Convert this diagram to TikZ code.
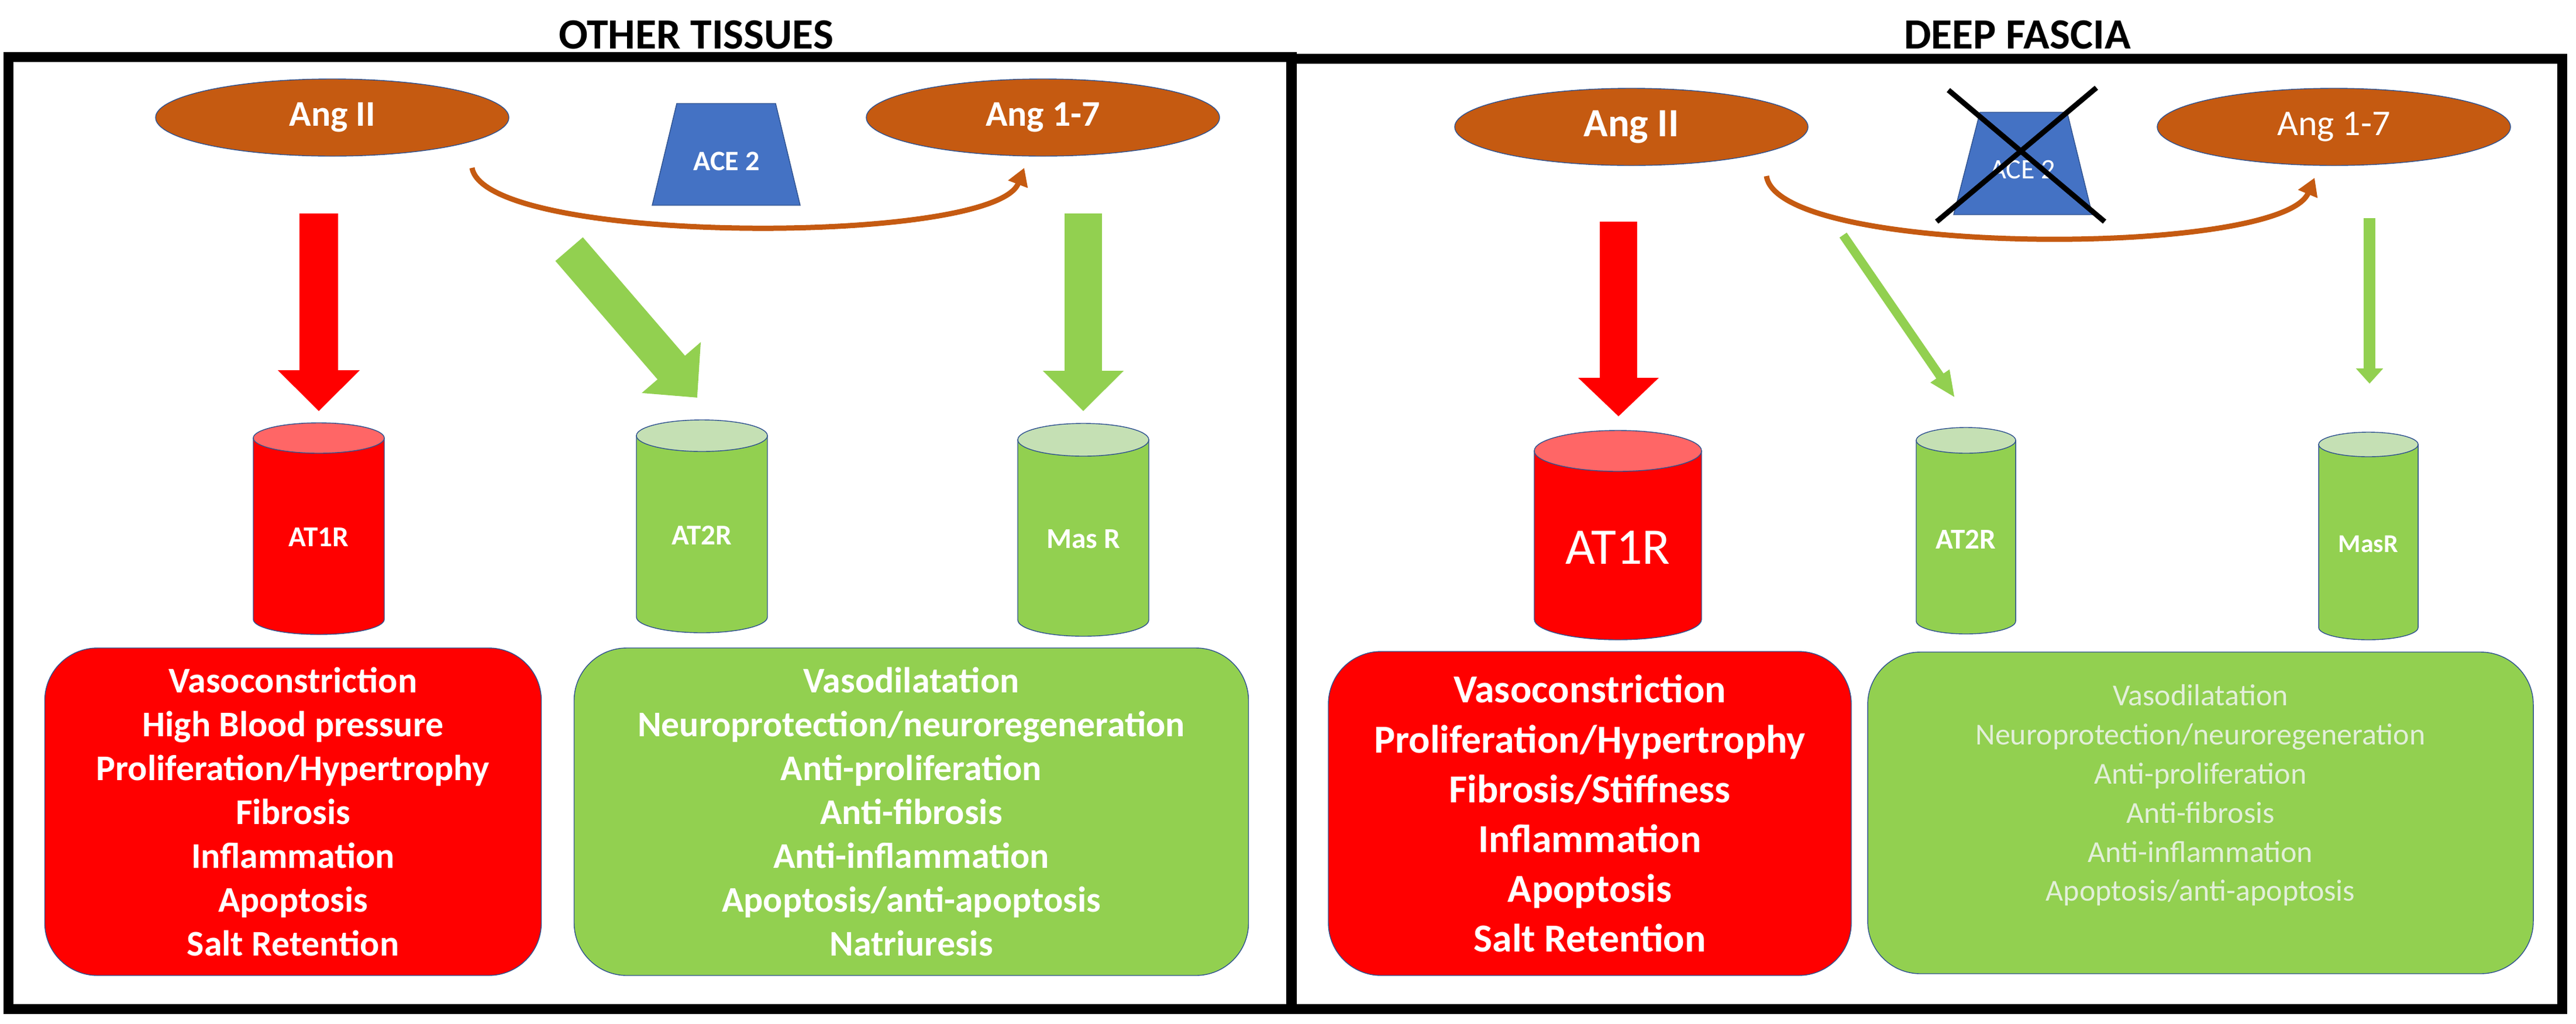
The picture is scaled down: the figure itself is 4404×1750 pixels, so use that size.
\documentclass[tikz,border=0pt]{standalone}
\usepackage{fontspec}
\setmainfont{Carlito}
\usetikzlibrary{shapes.geometric,arrows.meta,calc}
\definecolor{angbrown}{HTML}{C55A11}
\definecolor{aceblue}{HTML}{4472C4}
\definecolor{edge}{HTML}{2F528F}
\definecolor{redtop}{HTML}{FF6666}
\definecolor{greenfill}{HTML}{92D050}
\definecolor{greentop}{HTML}{C5E0B4}
\definecolor{fadetext}{HTML}{E2EFD9}
\definecolor{curvegray}{HTML}{5B6A8A}
\tikzset{
  ang/.style={ellipse,fill=angbrown,draw=edge,thin,text=white,minimum width=60.4mm,minimum height=13.2mm,inner sep=0pt},
  effect/.style={rounded corners=9mm,draw=edge,thin,text=white,align=center,inner sep=0pt},
  title/.style={font=\fontsize{21}{24}\selectfont\bfseries},
  cut/.style={black,line width=0.9mm},
  conv/.style={line width=0.9mm,angbrown,-{Triangle[length=3mm,width=3.4mm]}},
}
% block arrow: colour, shaft, head width, head length
\newcommand\blockarrow[6]{\draw[#1,line width=#2,-{Triangle[length=#4,width=#3]}] (#5) -- (#6);}
% cylinder: cx, top y, bottom y, half width, ry, body, top
\newcommand\cyl[7]{%
  \filldraw[fill=#6,draw=edge,thin] ({#1-#4},#2) -- ({#1-#4},#3)
    .. controls ({#1-#4},{#3+0.552*#5}) and ({#1-0.552*#4},{#3+#5}) .. (#1,{#3+#5})
    .. controls ({#1+0.552*#4},{#3+#5}) and ({#1+#4},{#3+0.552*#5}) .. ({#1+#4},#3) -- ({#1+#4},#2) -- cycle;
  \filldraw[fill=#7,draw=edge,thin] (#1,#2) ellipse [x radius=#4,y radius=#5];}

\begin{document}
\begin{tikzpicture}[x=0.1mm,y=-0.1mm]
  \useasboundingbox (0,0) rectangle (4404,1750);

  % ---- other tissues
  \node[title] (t1) at (1190,60) {OTHER TISSUES};
  \draw[line width=1.7mm] (14,97) rectangle (2208,1725);
  \node[ang,font=\fontsize{17.6}{20}\selectfont\bfseries] (ang2) at (568,201) {Ang II};
  \node[ang,font=\fontsize{17.6}{20}\selectfont\bfseries] (ang17) at (1783,201) {Ang 1-7};
  \filldraw[fill=aceblue,draw=edge,thin] (1157,177) -- (1326,177) -- (1368,351) -- (1115,351) -- cycle;
  \node[text=white,font=\fontsize{13.7}{16}\selectfont\bfseries] (ace) at (1242,276) {ACE 2};
  \coordinate (c1) at (807,287);
  \coordinate (c2) at (1751,287);
  \draw[conv] (c1) .. controls (830,420) and (1700,420) .. (c2);

  \coordinate (a1) at (545,365);   \coordinate (r1) at (545,703);
  \coordinate (a2) at (973,426);   \coordinate (r2) at (1192,680);
  \coordinate (a3) at (1852,365);  \coordinate (r3) at (1852,703);
  \blockarrow{red}{6.6mm}{13.6mm}{7mm}{a1}{r1}
  \blockarrow{greenfill}{6.2mm}{12.9mm}{6.8mm}{a2}{r2}
  \blockarrow{greenfill}{6.4mm}{13.4mm}{6.9mm}{a3}{r3}

  \cyl{545}{749}{1059}{112}{26}{red}{redtop}
  \cyl{1200}{745}{1055}{112}{27}{greenfill}{greentop}
  \cyl{1852}{752}{1060}{112}{28}{greenfill}{greentop}
  \node[text=white,font=\fontsize{14}{16}\selectfont\bfseries] (at1) at (545,919) {AT1R};
  \node[text=white,font=\fontsize{14}{16}\selectfont\bfseries] (at2) at (1200,915) {AT2R};
  \node[text=white,font=\fontsize{14}{16}\selectfont\bfseries] (mas) at (1852,922) {Mas R};

  \node[effect,fill=red,minimum width=84.9mm,minimum height=56mm,
        font=\fontsize{17.6}{21.3}\selectfont\bfseries] (bad1) at (501,1388)
        {Vasoconstriction\\High Blood pressure\\Proliferation/Hypertrophy\\Fibrosis\\Inflammation\\Apoptosis\\Salt Retention};
  \node[effect,fill=greenfill,minimum width=115.3mm,minimum height=56mm,
        font=\fontsize{17.6}{21.3}\selectfont\bfseries] (good1) at (1558,1388)
        {Vasodilatation\\Neuroprotection/neuroregeneration\\Anti-proliferation\\Anti-fibrosis\\Anti-inflammation\\Apoptosis/anti-apoptosis\\Natriuresis};

  % ---- deep fascia
  \node[title] (t2) at (3449,60) {DEEP FASCIA};
  \draw[line width=1.7mm] (2207,100) rectangle (4380,1725);
  \node[ang,font=\fontsize{19.5}{22}\selectfont\bfseries] (bang2) at (2789,217) {Ang II};
  \node[ang,font=\fontsize{17.6}{20}\selectfont] (bang17) at (3990,217) {Ang 1-7};
  \filldraw[fill=aceblue,draw=edge,thin] (3385,192) -- (3534,192) -- (3577,367) -- (3340,367) -- cycle;
  \node[text=white,font=\fontsize{13.7}{16}\selectfont] (bace) at (3458,290) {ACE 2};
  \draw[cut] (3331,154) -- (3598,379);
  \draw[cut] (3584,150) -- (3311,379);
  \coordinate (d1) at (3020,301);
  \coordinate (d2) at (3957,304);
  \draw[conv] (d1) .. controls (3040,440) and (3900,440) .. (d2);

  \coordinate (b1) at (2767,379);  \coordinate (s1) at (2767,712);
  \coordinate (b2) at (3151,402);  \coordinate (s2) at (3342,680);
  \coordinate (b3) at (4051,373);  \coordinate (s3) at (4051,656);
  \blockarrow{red}{6.4mm}{13.4mm}{6.6mm}{b1}{s1}
  \blockarrow{greenfill}{1.5mm}{3.6mm}{4.5mm}{b2}{s2}
  \blockarrow{greenfill}{2mm}{4.5mm}{2.6mm}{b3}{s3}

  \cyl{2766}{771}{1059}{143}{35}{red}{redtop}
  \cyl{3361}{753}{1062}{85}{22}{greenfill}{greentop}
  \cyl{4049}{760}{1073}{85}{21}{greenfill}{greentop}
  \node[text=white,font=\fontsize{25}{28}\selectfont] (bat1) at (2766,936) {AT1R};
  \node[text=white,font=\fontsize{14}{16}\selectfont\bfseries] (bat2) at (3361,922) {AT2R};
  \node[text=white,font=\fontsize{12.5}{15}\selectfont\bfseries] (bmas) at (4049,930) {MasR};

  \node[effect,fill=red,minimum width=89.4mm,minimum height=55.4mm,
        font=\fontsize{19.3}{24.2}\selectfont\bfseries] (bad2) at (2718,1391)
        {Vasoconstriction\\Proliferation/Hypertrophy\\Fibrosis/Stiffness\\Inflammation\\Apoptosis\\Salt Retention};
  \node[effect,fill=greenfill,minimum width=113.8mm,minimum height=55mm] (good2) at (3762,1390) {};
  \node[text=fadetext,align=center,font=\fontsize{14.8}{19}\selectfont] (goodtxt) at (3762,1360)
        {Vasodilatation\\Neuroprotection/neuroregeneration\\Anti-proliferation\\Anti-fibrosis\\Anti-inflammation\\Apoptosis/anti-apoptosis};
\end{tikzpicture}
\end{document}
